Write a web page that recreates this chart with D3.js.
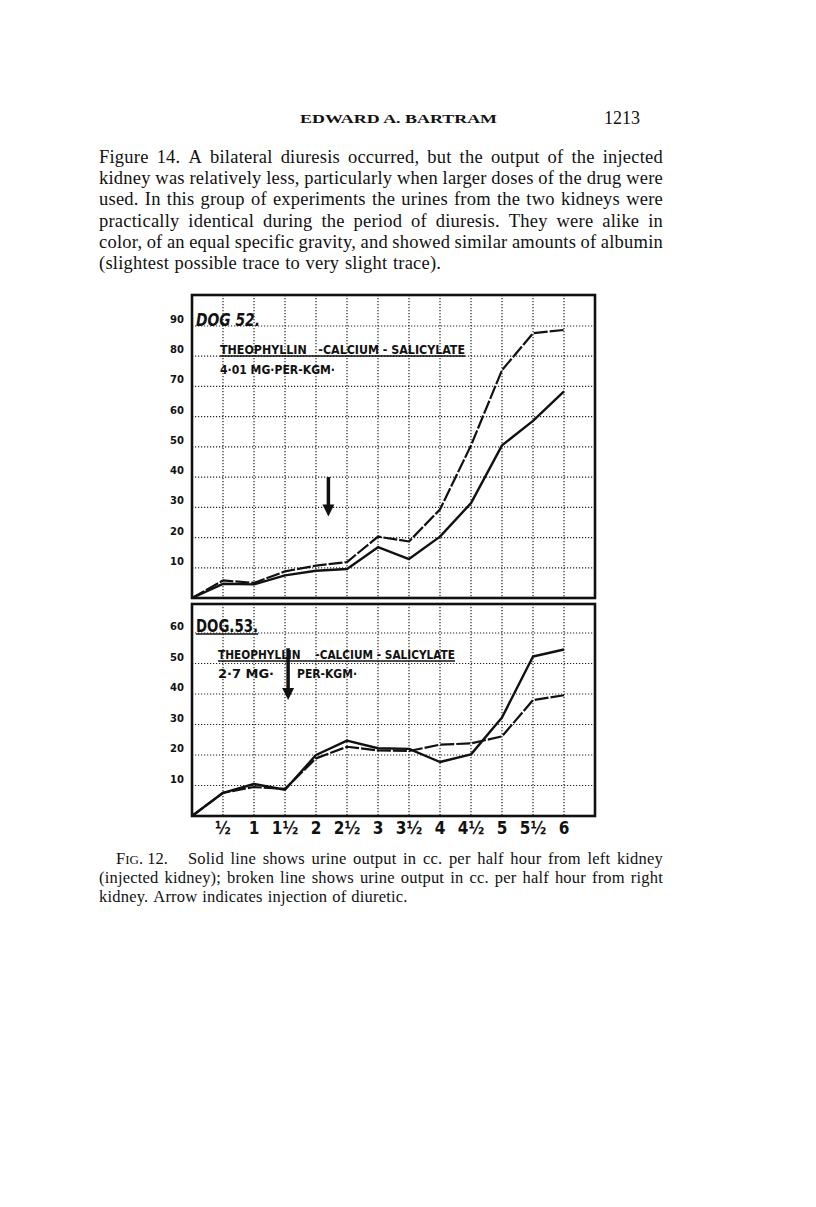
<!DOCTYPE html>
<html>
<head>
<meta charset="utf-8">
<script src="https://cdn.jsdelivr.net/npm/d3@7"></script>
<style>
  body { margin: 0; background: #fff; }
  svg { display: block; }
  .page { font-family: "Liberation Serif", "DejaVu Serif", serif; fill: #111; }
  .hand { font-family: "DejaVu Sans Condensed", "DejaVu Sans", sans-serif; font-weight: bold; fill: #111; }
  .ylab { font-family: "DejaVu Sans", sans-serif; font-weight: bold; font-size: 10px; fill: #111; }
</style>
</head>
<body>
<div id="page"></div>
<script>
// half-hour readings, cc per half hour
var hours = [0, 0.5, 1, 1.5, 2, 2.5, 3, 3.5, 4, 4.5, 5, 5.5, 6];
var xTickLabels = ["½", "1", "1½", "2", "2½", "3", "3½", "4", "4½", "5", "5½", "6"];

var dog52Solid = [0, 4.7, 4.5, 7.5, 9, 9.6, 16.8, 12.9, 20.3, 31.4, 50.5, 58.6, 68.4];
var dog52Broken = [0, 5.8, 5, 8.8, 10.7, 11.9, 20.3, 18.7, 29.3, 50.5, 75.4, 87.6, 88.7];
var dog53Solid = [0, 7.6, 10.5, 8.6, 20, 24.7, 22.2, 22, 17.7, 20.2, 32.3, 52.3, 54.6];
var dog53Broken = [0, 7.6, 9.5, 8.9, 18.9, 22.7, 21.5, 21.3, 23.4, 23.8, 26.1, 38, 39.6];

var dog52Ticks = [10, 20, 30, 40, 50, 60, 70, 80, 90];
var dog53Ticks = [10, 20, 30, 40, 50, 60];

// arrow: [hour, from value, to value]
var dog52Arrow = [2.2, 40, 27];
var dog53Arrow = [1.55, 55, 38];

var paragraph = [
  "Figure 14.  A bilateral diuresis occurred, but the output of the injected",
  "kidney was relatively less, particularly when larger doses of the drug were",
  "used.  In this group of experiments the urines from the two kidneys were",
  "practically identical during the period of diuresis.  They were alike in",
  "color, of an equal specific gravity, and showed similar amounts of albumin",
  "(slightest possible trace to very slight trace)."
];
var caption = [
  "Solid line shows urine output in cc. per half hour from left kidney",
  "(injected kidney); broken line shows urine output in cc. per half hour from right",
  "kidney.  Arrow indicates injection of diuretic."
];

var svgWidth = 816;
var svgHeight = 1207;

var svg = d3.select("#page")
  .append("svg")
  .attr("width", svgWidth)
  .attr("height", svgHeight);

// place words one by one, stretching the gaps to fill the measure
function justify(words, x0, x1, y, size, stretch) {
  var g = svg.append("g").attr("class", "page")
    .attr("font-size", size)
    .attr("letter-spacing", size * 0.012);
  var nodes = words.map(w => g.append("text").attr("y", y).text(w));
  var widths = nodes.map(n => n.node().getComputedTextLength());
  var total = d3.sum(widths);
  var gap = stretch && words.length > 1 ? (x1 - x0 - total) / (words.length - 1) : size * 0.3;
  var cx = x0;
  nodes.forEach(function(n, i) {
    n.attr("x", cx);
    cx += widths[i] + gap;
  });
}

// page header
svg.append("text")
  .attr("class", "page")
  .attr("x", 300).attr("y", 123)
  .attr("font-size", 13).attr("font-weight", "bold")
  .attr("textLength", 197).attr("lengthAdjust", "spacingAndGlyphs")
  .text("EDWARD A. BARTRAM");

svg.append("text")
  .attr("class", "page")
  .attr("x", 640).attr("y", 124)
  .attr("font-size", 18).attr("text-anchor", "end")
  .text("1213");

paragraph.forEach(function(line, i) {
  justify(line.split(/\s+/), 99, 663, 163 + i * 21.2, 18.5, i < paragraph.length - 1);
});

// x scale shared by both panels
var x = d3.scaleLinear().domain([0, 6.5]).range([192, 595]);

var yTop = d3.scaleLinear().domain([0, 90]).range([598, 326]);
var yBot = d3.scaleLinear().domain([0, 60]).range([816, 633]);

function drawPanel(g, y, ticks, top, bottom, solid, broken, arrow, titles) {
  // dotted grid
  g.selectAll(".hgrid")
    .data(ticks)
    .enter()
    .append("line")
    .attr("x1", x(0)).attr("x2", x(6.5))
    .attr("y1", d => y(d)).attr("y2", d => y(d))
    .attr("stroke", "#222").attr("stroke-width", 1.2)
    .attr("stroke-dasharray", "1.2,1.8");

  g.selectAll(".vgrid")
    .data(hours.slice(1))
    .enter()
    .append("line")
    .attr("x1", d => x(d)).attr("x2", d => x(d))
    .attr("y1", top).attr("y2", bottom)
    .attr("stroke", "#222").attr("stroke-width", 1.2)
    .attr("stroke-dasharray", "1.2,1.8");

  // y labels
  g.selectAll(".ylab")
    .data(ticks)
    .enter()
    .append("text")
    .attr("class", "ylab")
    .attr("x", 177)
    .attr("y", d => y(d) - 3)
    .attr("text-anchor", "middle")
    .text(d => d);

  // frame
  g.append("rect")
    .attr("x", x(0)).attr("y", top)
    .attr("width", x(6.5) - x(0)).attr("height", bottom - top)
    .attr("fill", "none").attr("stroke", "#111").attr("stroke-width", 2.6);

  var line = d3.line()
    .x((d, i) => x(hours[i]))
    .y(d => y(d));

  g.append("path")
    .datum(solid)
    .attr("d", line)
    .attr("fill", "none").attr("stroke", "#111").attr("stroke-width", 2.4)
    .attr("stroke-linejoin", "round");

  g.append("path")
    .datum(broken)
    .attr("d", line)
    .attr("fill", "none").attr("stroke", "#111").attr("stroke-width", 2.2)
    .attr("stroke-dasharray", "14,2")
    .attr("stroke-linejoin", "round");

  // injection arrow
  var ax = x(arrow[0]), ay1 = y(arrow[1]), ay2 = y(arrow[2]);
  g.append("line")
    .attr("x1", ax).attr("x2", ax)
    .attr("y1", ay1).attr("y2", ay2 - 8)
    .attr("stroke", "#111").attr("stroke-width", 3.5);
  g.append("path")
    .attr("d", `M${ax - 6},${ay2 - 12} L${ax + 6},${ay2 - 12} L${ax},${ay2} Z`)
    .attr("fill", "#111");

  // hand lettering
  titles.forEach(function(t) {
    g.append("text")
      .attr("class", "hand")
      .attr("x", t.x).attr("y", t.y)
      .attr("font-size", t.size)
      .attr("textLength", t.w).attr("lengthAdjust", "spacingAndGlyphs")
      .attr("font-style", t.italic ? "italic" : null)
      .attr("xml:space", "preserve")
      .text(t.text);
    if (t.under) {
      g.append("line")
        .attr("x1", t.x).attr("x2", t.x + t.w)
        .attr("y1", t.y + 2).attr("y2", t.y + 2)
        .attr("stroke", "#111").attr("stroke-width", 1.4);
    }
  });
}

var topPanel = svg.append("g");
drawPanel(topPanel, yTop, dog52Ticks, 295, 598, dog52Solid, dog52Broken, dog52Arrow, [
  { text: "DOG 52.", x: 196, y: 326, size: 18, w: 64, italic: true, under: false },
  { text: "THEOPHYLLIN   -CALCIUM - SALICYLATE", x: 220, y: 354, size: 12, w: 245, under: true },
  { text: "4·01 MG·PER-KGM·", x: 220, y: 374, size: 12, w: 115, under: false }
]);

var botPanel = svg.append("g");
drawPanel(botPanel, yBot, dog53Ticks, 604, 816, dog53Solid, dog53Broken, dog53Arrow, [
  { text: "DOG.53.", x: 196, y: 632, size: 18, w: 62, italic: false, under: true },
  { text: "THEOPHYLLIN    -CALCIUM - SALICYLATE", x: 218, y: 659, size: 12, w: 237, under: true },
  { text: "2·7 MG·", x: 218, y: 678, size: 12, w: 56, under: false },
  { text: "PER-KGM·", x: 297, y: 678, size: 12, w: 60, under: false }
]);

// x tick labels under the lower panel
svg.selectAll(".xlab")
  .data(xTickLabels)
  .enter()
  .append("text")
  .attr("class", "hand")
  .attr("x", (d, i) => x(hours[i + 1]))
  .attr("y", 834)
  .attr("font-size", 17)
  .attr("text-anchor", "middle")
  .text(d => d);

// caption
svg.append("text")
  .attr("class", "page")
  .attr("x", 116).attr("y", 864)
  .attr("font-size", 16.5)
  .attr("xml:space", "preserve")
  .html('F<tspan font-size="13">IG</tspan>. 12.');

justify(caption[0].split(/\s+/), 188, 663, 864, 16.5, true);
caption.slice(1).forEach(function(line, i) {
  justify(line.split(/\s+/), 99, 663, 883 + i * 19, 16.5, i === 0);
});
</script>
</body>
</html>
